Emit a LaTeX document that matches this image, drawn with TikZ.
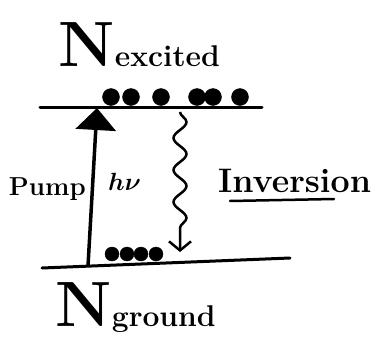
\documentclass[tikz,border=0pt]{standalone}
\usepackage{amssymb, mathtools}
\usetikzlibrary{calc, arrows.meta, decorations.pathmorphing}

\begin{document}
\begin{tikzpicture}[x=1pt,y=-1pt]
\useasboundingbox (0,0) rectangle (384,338);
\tikzset{level/.style={line width=3pt, black, line cap=round},
  electron/.style={fill=black},
  big/.style={font=\bfseries\fontsize{64}{64}\selectfont},
  small/.style={font=\bfseries\fontsize{30}{30}\selectfont}}
% levels
\coordinate (topL) at (40,107);
\coordinate (topR) at (262,107);
\coordinate (botL) at (42,268);
\coordinate (botR) at (290,258);
\draw[level] (topL) -- (topR);
\draw[level] (botL) -- (botR);
% electrons
\foreach \x in {111,131,161,197,213,240} \filldraw[electron] (\x,97) circle (8.5);
\foreach \x in {112,127,141,156} \filldraw[electron] (\x,254) circle (7);
% labels
\node[big, anchor=base west, inner sep=0] (nexc) at (58,66) {N};
\node[small, anchor=base west, inner sep=0] (exc) at (nexc.base east) {excited};
\node[big, anchor=base west, inner sep=0] (ngr) at (55,326) {N};
\node[small, anchor=base west, inner sep=0] (gr) at (ngr.base east) {ground};
\node[font=\bfseries\fontsize{26}{26}\selectfont, anchor=base east, inner sep=0] (pump) at (86,195) {Pump};
\node[font=\boldmath\fontsize{30}{30}\selectfont, anchor=base west, inner sep=0] (hnu) at (108,190) {$h\nu$};
\node[font=\bfseries\fontsize{34}{34}\selectfont, anchor=base west, inner sep=0] (inv) at (218,192) {Inversion};
\coordinate (ulL) at (230,201);
\coordinate (ulR) at (334,199);
\draw[line width=2.5pt, line cap=round] (ulL) -- (ulR);
% pump arrow
\coordinate (pumpbot) at (88,266);
\coordinate (pumptop) at (97,108);
\draw[line width=3.5pt, -{Triangle[length=22pt,width=40pt]}] (pumpbot) -- (pumptop);
% decay
\coordinate (decaytop) at (180,112);
\coordinate (decaybot) at (180,252);
\draw[line width=2.5pt, -{Straight Barb[length=9pt,width=22pt]},
  decorate, decoration={snake, amplitude=6.5pt, segment length=32pt, post length=12pt}]
  (decaytop) -- (decaybot);
\end{tikzpicture}
\end{document}
